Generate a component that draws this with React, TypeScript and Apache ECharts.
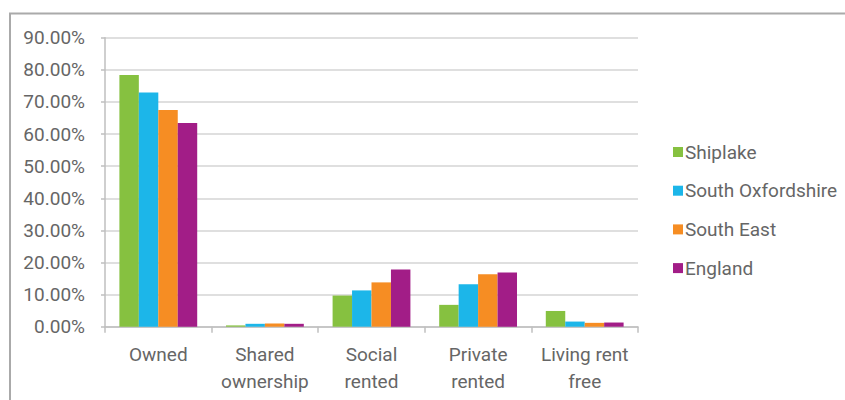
import React, { useEffect, useRef } from "react";
import * as echarts from "echarts";

const categories = ["Owned", "Shared\nownership", "Social\nrented", "Private\nrented", "Living rent\nfree"];
const seriesNames = ["Shiplake", "South Oxfordshire", "South East", "England"];
const shiplake = [78.4, 0.4, 9.7, 6.8, 4.9];
const southOxfordshire = [72.9, 0.9, 11.3, 13.2, 1.6];
const southEast = [67.5, 1.0, 13.8, 16.3, 1.2];
const england = [63.4, 0.9, 17.8, 16.9, 1.3];
const colors = ["#86C140", "#1CB6E9", "#F68D23", "#A21D87"];

export default function App() {
  const ref = useRef<HTMLDivElement>(null);
  useEffect(() => {
    if (!ref.current) return;
    const chart = echarts.init(ref.current, null, { renderer: "svg" });
    const font = "Roboto";
    const txt = "#666666";
    const dataSets = [shiplake, southOxfordshire, southEast, england];
    chart.setOption({
      animation: false,
      textStyle: { fontFamily: font },
      graphic: [
        {
          type: "rect",
          shape: { x: 10, y: 13.5, width: 860, height: 420 },
          style: { fill: "none", stroke: "#aaaaaa", lineWidth: 2 },
          silent: true,
        },
      ],
      grid: { left: 105, top: 37.7, width: 533, height: 289, containLabel: false },
      legend: {
        orient: "vertical",
        left: 668,
        top: 137,
        itemWidth: 10,
        itemHeight: 10,
        itemGap: 18.7,
        icon: "rect",
        data: seriesNames,
        textStyle: { fontFamily: font, fontSize: 19, color: txt, lineHeight: 20, padding: [0, 0, 0, -3] },
      },
      xAxis: {
        type: "category",
        data: categories,
        axisLine: { show: true, lineStyle: { color: "#bfbfbf", width: 1.5 } },
        axisTick: { show: true, length: 6, alignWithLabel: false, lineStyle: { color: "#bfbfbf", width: 1.5 } },
        axisLabel: { fontFamily: font, fontSize: 19, color: txt, margin: 14, lineHeight: 27, interval: 0 },
      },
      yAxis: {
        type: "value",
        min: 0,
        max: 90,
        interval: 10,
        axisLine: { show: true, lineStyle: { color: "#bfbfbf", width: 1.5 } },
        axisTick: { show: true, length: 4, lineStyle: { color: "#bfbfbf", width: 1.5 } },
        splitLine: { show: true, lineStyle: { color: "#d4d4d4", width: 1.5 } },
        axisLabel: {
          fontFamily: font,
          fontSize: 19,
          color: txt,
          margin: 20,
          formatter: (v: number) => v.toFixed(2) + "%",
        },
      },
      series: seriesNames.map((name, i) => ({
        name,
        type: "bar",
        data: dataSets[i],
        itemStyle: { color: colors[i] },
        barGap: "0%",
        barCategoryGap: "27%",
      })),
    });
    return () => chart.dispose();
  }, []);
  return <div ref={ref} style={{ position: "fixed", left: 0, top: 0, width: 845, height: 400, background: "#fff" }} />;
}
